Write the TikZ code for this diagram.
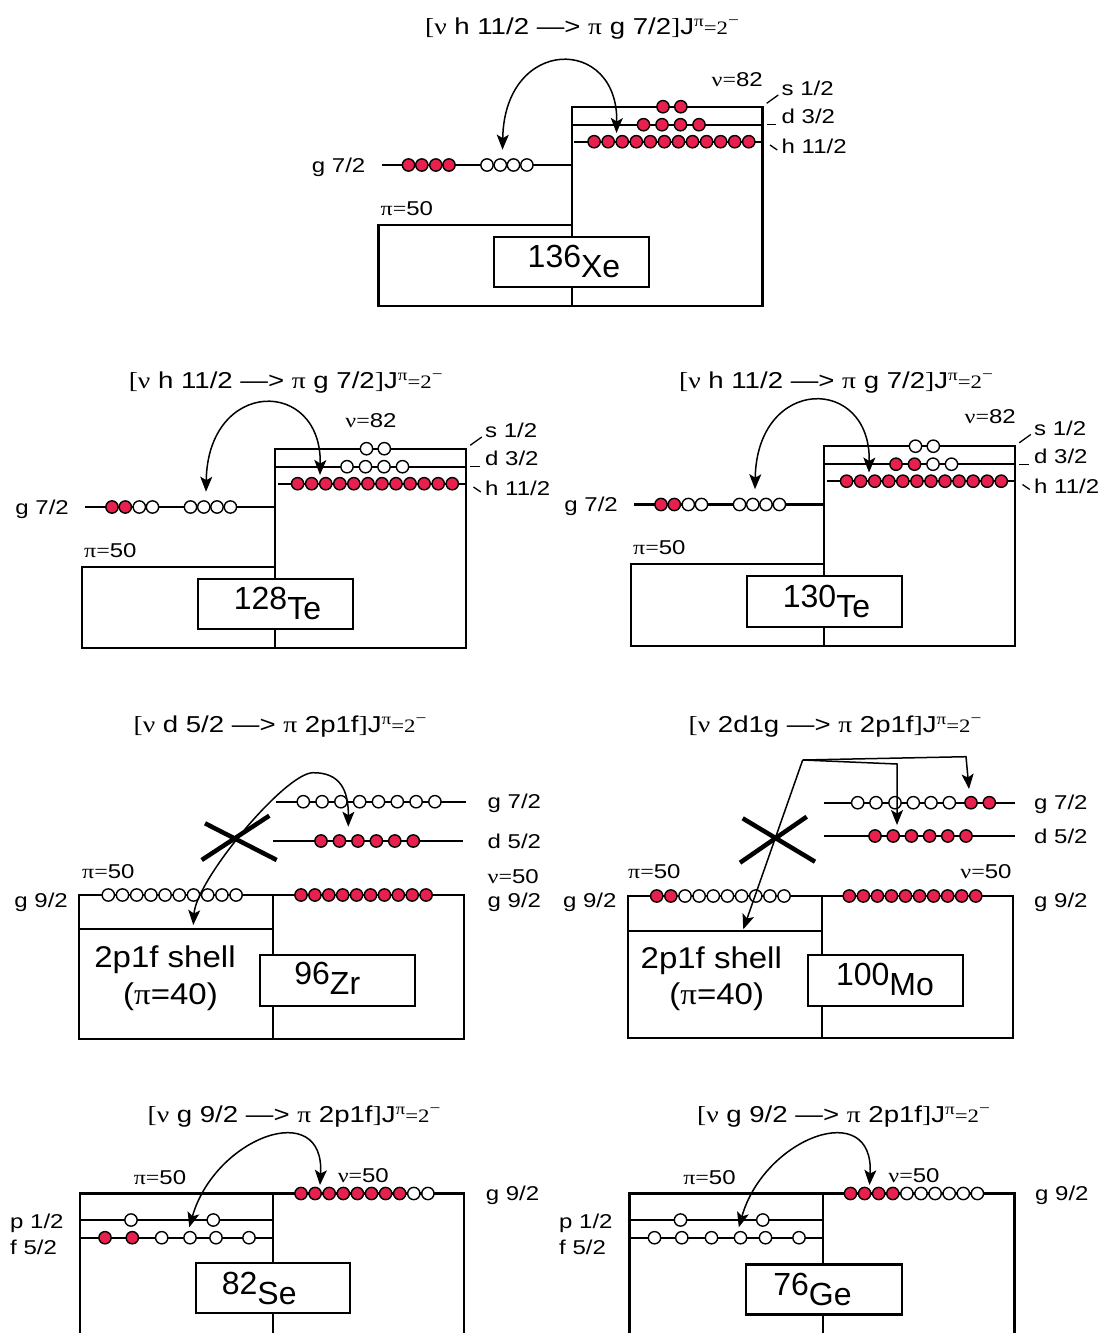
\documentclass[tikz,border=0pt]{standalone}
\usepackage{fontspec}
\setmainfont{Liberation Sans}
\newfontfamily\lsans{Liberation Sans}[FakeStretch=1.2]
\newfontfamily\lserif{Liberation Serif}[FakeStretch=1.2]
\newfontfamily\bsans{Liberation Sans}[FakeStretch=1.1]
\newfontfamily\bserif{Liberation Serif}[FakeStretch=1.1]
\usetikzlibrary{arrows.meta}
\definecolor{nucred}{RGB}{231,32,78}
\colorlet{F}{nucred}
\colorlet{E}{white}
\newcommand\labfont{\fontsize{20pt}{22pt}\selectfont\lsans}
\newcommand\ttlfont{\fontsize{23pt}{26pt}\selectfont\lsans}
\newcommand\bigfont{\fontsize{30pt}{33pt}\selectfont\bsans}
\newcommand\isofont{\fontsize{32pt}{36pt}\selectfont\rmfamily}
\newcommand\gk[1]{{\lserif #1}}
\newcommand\gkb[1]{{\bserif #1}}
\newcommand\isotope[2]{\raisebox{10pt}{#1}#2}
\newcommand\jpi{\gk{]}J\raisebox{8pt}{\fontsize{16pt}{16pt}\lserif π}{\fontsize{19pt}{20pt}\lserif =2}\raisebox{9pt}{\fontsize{16pt}{16pt}\lserif −}}
\newcommand\orbrow[3]{\foreach \xx/\cc [count=\ii] in {#3} {\node[orb=\cc] (#1\ii) at (\xx,#2) {};}}
\newcommand\urow[5]{\foreach \cc [count=\ii from 0] in {#5} {\node[orb=\cc] (#1\ii) at ({#3+\ii*#4},#2) {};}}
\tikzset{
 lv/.style={line width=2.2pt},
 orb/.style={circle, draw=black, line width=1.4pt, fill=#1, minimum size=12.3pt, inner sep=0pt},
 lbl/.style={font=\labfont, inner sep=0pt, text height=14.3pt, text depth=0pt},
 ttl/.style={font=\ttlfont, inner sep=0pt, text height=16.5pt, text depth=0pt},
 bigtxt/.style={font=\bigfont, inner sep=0pt, text height=21.5pt, text depth=0pt},
 isobox/.style={draw, line width=2.2pt, fill=white, inner sep=0pt},
 isotxt/.style={font=\isofont, inner sep=0pt},
 tick/.style={line width=1.3pt},
 cross/.style={line width=4.5pt},
 arcboth/.style={line width=1.5pt, <->},
 arcone/.style={line width=1.5pt, ->},
 >={Stealth[length=15pt,width=12pt,inset=3.5pt]}
}
\newcommand\panelA[5]{%
 \draw[lv] (82,566.7) rectangle (275.3,648.3);
 \draw[lv] (275.3,448.7) rectangle (466,648.3);
 \draw[lv] (275.3,466.7) -- (466,466.7);
 \draw[lv] (277.7,483.7) -- (466,483.7);
 \draw[lv] (85,507) -- (275.3,507);
 \node[isobox, minimum width=154.8pt, minimum height=50.5pt] (#1box) at (275.2,604) {};
 \node[isotxt] (#1iso) at (277.5,603.5) {#5};
 \urow{#1s}{448.7}{366.5}{17.8}{#2}
 \urow{#1d}{466.7}{347}{18.5}{#3}
 \urow{#1h}{483.7}{297.6}{14.06}{F,F,F,F,F,F,F,F,F,F,F,F}
 \orbrow{#1g}{507}{#4}
 \draw[tick] (470.2,445.3) -- (481.8,437);
 \draw[tick] (470,466.7) -- (479.5,466.7);
 \draw[tick] (473.5,487) -- (480.8,492);
 \node[lbl, anchor=west] (#1ls) at (485,430.5) {s 1/2};
 \node[lbl, anchor=west] (#1ld) at (485,458.5) {d 3/2};
 \node[lbl, anchor=west] (#1lh) at (485,488.5) {h 11/2};
 \node[lbl, anchor=east] (#1lg) at (69,507) {g 7/2};
 \node[lbl, anchor=west] (#1lp) at (84,550) {\gk{π=}50};
 \coordinate (#1aL) at (206,491.7);
 \coordinate (#1aR) at (320,475);
 \draw[arcboth] (#1aL) .. controls +(2,-114) and +(2,-97.4) .. (#1aR);
}
\begin{document}
\begin{tikzpicture}[x=1pt,y=-1pt]
\useasboundingbox (0,0) rectangle (1105,1333);
\fill[white] (0,0) rectangle (1105,1333);

% ---------- titles ----------
\node[ttl] (t1) at (582,26) {\gk{[ν} h 11/2 —> \gk{π} g 7/2\jpi};
\node[ttl] (t2) at (285.7,380.5) {\gk{[ν} h 11/2 —> \gk{π} g 7/2\jpi};
\node[ttl] (t3) at (836,380.5) {\gk{[ν} h 11/2 —> \gk{π} g 7/2\jpi};
\node[ttl] (t4) at (280,724) {\gk{[ν} d 5/2 —> \gk{π} 2p1f\jpi};
\node[ttl] (t5) at (835,724) {\gk{[ν} 2d1g —> \gk{π} 2p1f\jpi};
\node[ttl] (t6) at (294,1114.5) {\gk{[ν} g 9/2 —> \gk{π} 2p1f\jpi};
\node[ttl] (t7) at (843.5,1114.5) {\gk{[ν} g 9/2 —> \gk{π} 2p1f\jpi};

% ---------- 136Xe ----------
\begin{scope}[shift={(296.5,-342)}]
\panelA{xe}{F,F}{F,F,F,F}{112/F,125.3/F,139.3/F,152.5/F,190.5/E,203.8/E,217/E,230.4/E}{\isotope{136}{Xe}}
\end{scope}
\node[lbl, anchor=east] (xenu) at (763,79) {\gk{ν=}82};

% ---------- 128Te ----------
\panelA{ta}{E,E}{E,E,E,E}{112/F,125.3/F,139.3/E,152.5/E,190.5/E,203.8/E,217/E,230.4/E}{\isotope{128}{Te}}
\node[lbl] (tanu) at (371,420) {\gk{ν=}82};

% ---------- 130Te ----------
\begin{scope}[shift={(549,-2.5)}]
\panelA{tb}{E,E}{F,F,E,E}{112/F,125.3/F,139.3/E,152.5/E,190.5/E,203.8/E,217/E,230.4/E}{\isotope{130}{Te}}
\end{scope}
\node[lbl, anchor=east] (tbnu) at (1016,416) {\gk{ν=}82};

% ---------- 96Zr ----------
\draw[lv] (79.3,895) rectangle (464,1038.7);
\draw[lv] (272.7,895) -- (272.7,1038.7);
\draw[lv] (79.3,929.3) -- (272.7,929.3);
\draw[lv] (276,801.7) -- (465.7,801.7);
\draw[lv] (273.3,841) -- (463.3,841);
\node[isobox, minimum width=154.7pt, minimum height=50.7pt] (zrbox) at (337.7,980.3) {};
\node[isotxt] (zriso) at (327.3,978.3) {\isotope{96}{Zr}};
\urow{zrg}{801.7}{303.3}{18.8}{E,E,E,E,E,E,E,E}
\urow{zrd}{841}{321}{18.45}{F,F,F,F,F,F}
\urow{zrp}{895}{108.3}{14.2}{E,E,E,E,E,E,E,E,E,E}
\urow{zrn}{895}{301}{13.9}{F,F,F,F,F,F,F,F,F,F}
\draw[cross] (205,823.3) -- (276.7,860);
\draw[cross] (201.7,860) -- (269.3,815.7);
\coordinate (zrL) at (193.3,925);
\coordinate (zrM) at (313,772.7);
\coordinate (zrR) at (348.3,826.7);
\draw[arcboth] (zrL) .. controls (196,880) and (285,773) .. (zrM) .. controls (340,772.5) and (348.5,790) .. (zrR);
\node[lbl, anchor=west] (zrl1) at (487.5,801.7) {g 7/2};
\node[lbl, anchor=west] (zrl2) at (487.5,841) {d 5/2};
\node[lbl, anchor=west] (zrl3) at (487.5,876.7) {\gk{ν=}50};
\node[lbl, anchor=west] (zrl4) at (487.5,900) {g 9/2};
\node[lbl, anchor=east] (zrl5) at (68,900) {g 9/2};
\node[lbl, anchor=west] (zrl6) at (82,871.7) {\gk{π=}50};
\node[bigtxt] (zrsh) at (165,957) {2p1f shell};
\node[bigtxt] (zrpi) at (170.5,994) {(\gkb{π}=40)};

% ---------- 100Mo ----------
\draw[lv] (627.7,896) rectangle (1012.7,1038.3);
\draw[lv] (821.7,896) -- (821.7,1038.3);
\draw[lv] (627.7,930.7) -- (821.7,930.7);
\draw[lv] (824.3,802.7) -- (1015,802.7);
\draw[lv] (824.3,836) -- (1015,836);
\node[isobox, minimum width=155.6pt, minimum height=50.7pt] (mobox) at (885.5,980.3) {};
\node[isotxt] (moiso) at (885,979) {\isotope{100}{Mo}};
\orbrow{mog}{802.7}{857.7/E,876/E,895/E,913.3/E,931/E,949.3/E,971/F,989.3/F}
\urow{mod}{836}{875}{18.2}{F,F,F,F,F,F}
\urow{mop}{896}{656.7}{14.15}{F,F,E,E,E,E,E,E,E,E}
\urow{mon}{896}{849.3}{14.05}{F,F,F,F,F,F,F,F,F,F}
\draw[cross] (742.7,818.3) -- (815,861.7);
\draw[cross] (740,862.7) -- (806.7,816.7);
\coordinate (moV) at (802.7,760);
\coordinate (moT1) at (743.3,929.3);
\coordinate (moB2) at (897,764);
\coordinate (moT2) at (897,825);
\coordinate (moB3) at (966,756.7);
\coordinate (moT3) at (969,789);
\draw[arcone] (moV) -- (moT1);
\draw[arcone] (moV) -- (moB2) -- (moT2);
\draw[arcone] (moV) -- (moB3) -- (moT3);
\node[lbl, anchor=west] (mol1) at (1034,802.7) {g 7/2};
\node[lbl, anchor=west] (mol2) at (1034,836) {d 5/2};
\node[lbl, anchor=east] (mol3) at (1011.7,871.7) {\gk{ν=}50};
\node[lbl, anchor=west] (mol4) at (1034,900) {g 9/2};
\node[lbl, anchor=east] (mol5) at (616.7,900) {g 9/2};
\node[lbl, anchor=west] (mol6) at (628,871.7) {\gk{π=}50};
\node[bigtxt] (mosh) at (711.3,958) {2p1f shell};
\node[bigtxt] (mopi) at (716.7,994) {(\gkb{π}=40)};

% ---------- 82Se ----------
\draw[lv] (80,1336) -- (80,1193.5) -- (464,1193.5) -- (464,1336);
\draw[lv] (273.3,1193.5) -- (273.3,1336);
\draw[lv] (80,1220) -- (271.7,1220);
\draw[lv] (80,1237.7) -- (271.7,1237.7);
\node[isobox, minimum width=154.3pt, minimum height=50pt] (sebox) at (272.9,1288.3) {};
\node[isotxt] (seiso) at (259.2,1288.4) {\isotope{82}{Se}};
\orbrow{sep}{1220}{131/E,213.3/E}
\orbrow{sef}{1237.7}{105/F,132.3/F,161.7/E,190/E,216/E,249/E}
\urow{seg}{1193.5}{301}{14.1}{F,F,F,F,F,F,F,F,E,E}
\coordinate (seL) at (189.3,1227.3);
\coordinate (seR) at (320,1185);
\draw[arcboth] (seL) .. controls +(25.7,-90.3) and +(5,-88) .. (seR);
\node[lbl] (sel1) at (160,1177.5) {\gk{π=}50};
\node[lbl] (sel2) at (363.3,1175.5) {\gk{ν=}50};
\node[lbl, anchor=west] (sel3) at (485.7,1193.5) {g 9/2};
\node[lbl, anchor=west] (sel4) at (10,1221) {p 1/2};
\node[lbl, anchor=west] (sel5) at (10,1247) {f 5/2};

% ---------- 76Ge ----------
\draw[lv] (629.5,1336) -- (629.5,1193.5) -- (1014.5,1193.5) -- (1014.5,1336);
\draw[lv] (823.3,1193.5) -- (823.3,1336);
\draw[lv] (629.5,1220) -- (821.5,1220);
\draw[lv] (629.5,1237.7) -- (821.5,1237.7);
\node[isobox, minimum width=156pt, minimum height=50pt] (gebox) at (823.8,1289.5) {};
\node[isotxt] (geiso) at (812.5,1289.5) {\isotope{76}{Ge}};
\orbrow{gep}{1220}{680.5/E,762.8/E}
\orbrow{gef}{1237.7}{654.5/E,681.8/E,711.5/E,740.5/E,765.5/E,799/E}
\urow{geg}{1193.5}{850.5}{14.1}{F,F,F,F,E,E,E,E,E,E}
\coordinate (geL) at (738.8,1227.3);
\coordinate (geR) at (869.5,1185);
\draw[arcboth] (geL) .. controls +(25.7,-90.3) and +(5,-88) .. (geR);
\node[lbl] (gel1) at (709.5,1177.5) {\gk{π=}50};
\node[lbl] (gel2) at (914,1175.5) {\gk{ν=}50};
\node[lbl, anchor=west] (gel3) at (1035,1193.5) {g 9/2};
\node[lbl, anchor=west] (gel4) at (559,1221) {p 1/2};
\node[lbl, anchor=west] (gel5) at (559,1247) {f 5/2};
\end{tikzpicture}
\end{document}
